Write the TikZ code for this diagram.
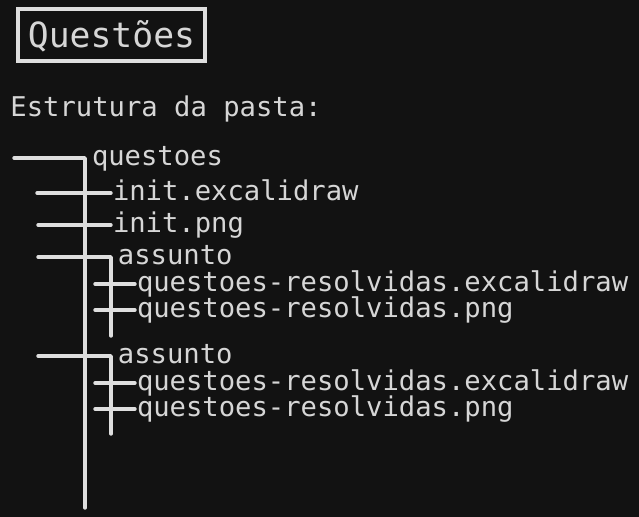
\documentclass[tikz,border=0pt]{standalone}
\usepackage{fontspec}
\setmonofont{DejaVu Sans Mono}
\usetikzlibrary{positioning}
\definecolor{canvas}{HTML}{121212}
\definecolor{ink}{HTML}{D6D6D6}
\definecolor{stroke}{HTML}{DEDEDE}

\begin{document}
\begin{tikzpicture}[
  x=0.5pt, y=-0.5pt,
  tree/.style={draw=stroke, line width=1.7pt, line cap=round, line join=round},
  item/.style={text=ink, font=\ttfamily\fontsize{13.6}{16}\selectfont,
    inner sep=0pt, outer sep=1pt, anchor=west, text height=7.5pt, text depth=0pt},
  caption/.style={text=ink, font=\ttfamily\fontsize{13.6}{16}\selectfont,
    inner sep=0pt, anchor=base west},
  titlebox/.style={draw=stroke, line width=1.6pt, text=ink,
    font=\ttfamily\fontsize{17.35}{20}\selectfont, text height=12.6pt, text depth=0pt,
    minimum width=93.5pt, minimum height=26pt, inner sep=0pt},
]
\fill[canvas] (0,0) rectangle (639,517);
\useasboundingbox (0,0) rectangle (639,517);

% === Header ===
\node[titlebox] (title) at (111.5,35) {Questões};
\node[caption] (estrutura) at (10,117) {Estrutura da pasta:};

% === Tree texts ===
\node[item] (questoes) at (90,158) {questoes};
\node[item] (initex) at (111,193) {init.excalidraw};
\node[item] (initpng) at (111,225) {init.png};

\node[item] (assuntoA) at (116,257) {assunto};
\node[item] (resA1) at (135,284) {questoes-resolvidas.excalidraw};
\node[item] (resA2) at (135,310) {questoes-resolvidas.png};

\node[item] (assuntoB) at (116,356) {assunto};
\node[item] (resB1) at (135,383) {questoes-resolvidas.excalidraw};
\node[item] (resB2) at (135,409) {questoes-resolvidas.png};

% free ends of the branches
\coordinate (qL) at (14,158);
\coordinate (qEnd) at (85,508);
\coordinate (ieL) at (37,193);
\coordinate (ipL) at (38,225);
\coordinate (aAL) at (38,257);
\coordinate (aAEnd) at (111,336);
\coordinate (rA1L) at (95,284);
\coordinate (rA2L) at (95,310);
\coordinate (aBL) at (38,356);
\coordinate (aBEnd) at (111,434);
\coordinate (rB1L) at (95,383);
\coordinate (rB2L) at (95,409);

% === Branches ===
\draw[tree] (qL) -| (qEnd);
\draw[tree] (ieL) -- (initex);
\draw[tree] (ipL) -- (initpng);

\draw[tree] (aAL) -| (aAEnd);
\draw[tree] (rA1L) -- (resA1);
\draw[tree] (rA2L) -- (resA2);

\draw[tree] (aBL) -| (aBEnd);
\draw[tree] (rB1L) -- (resB1);
\draw[tree] (rB2L) -- (resB2);

\end{tikzpicture}
\end{document}
